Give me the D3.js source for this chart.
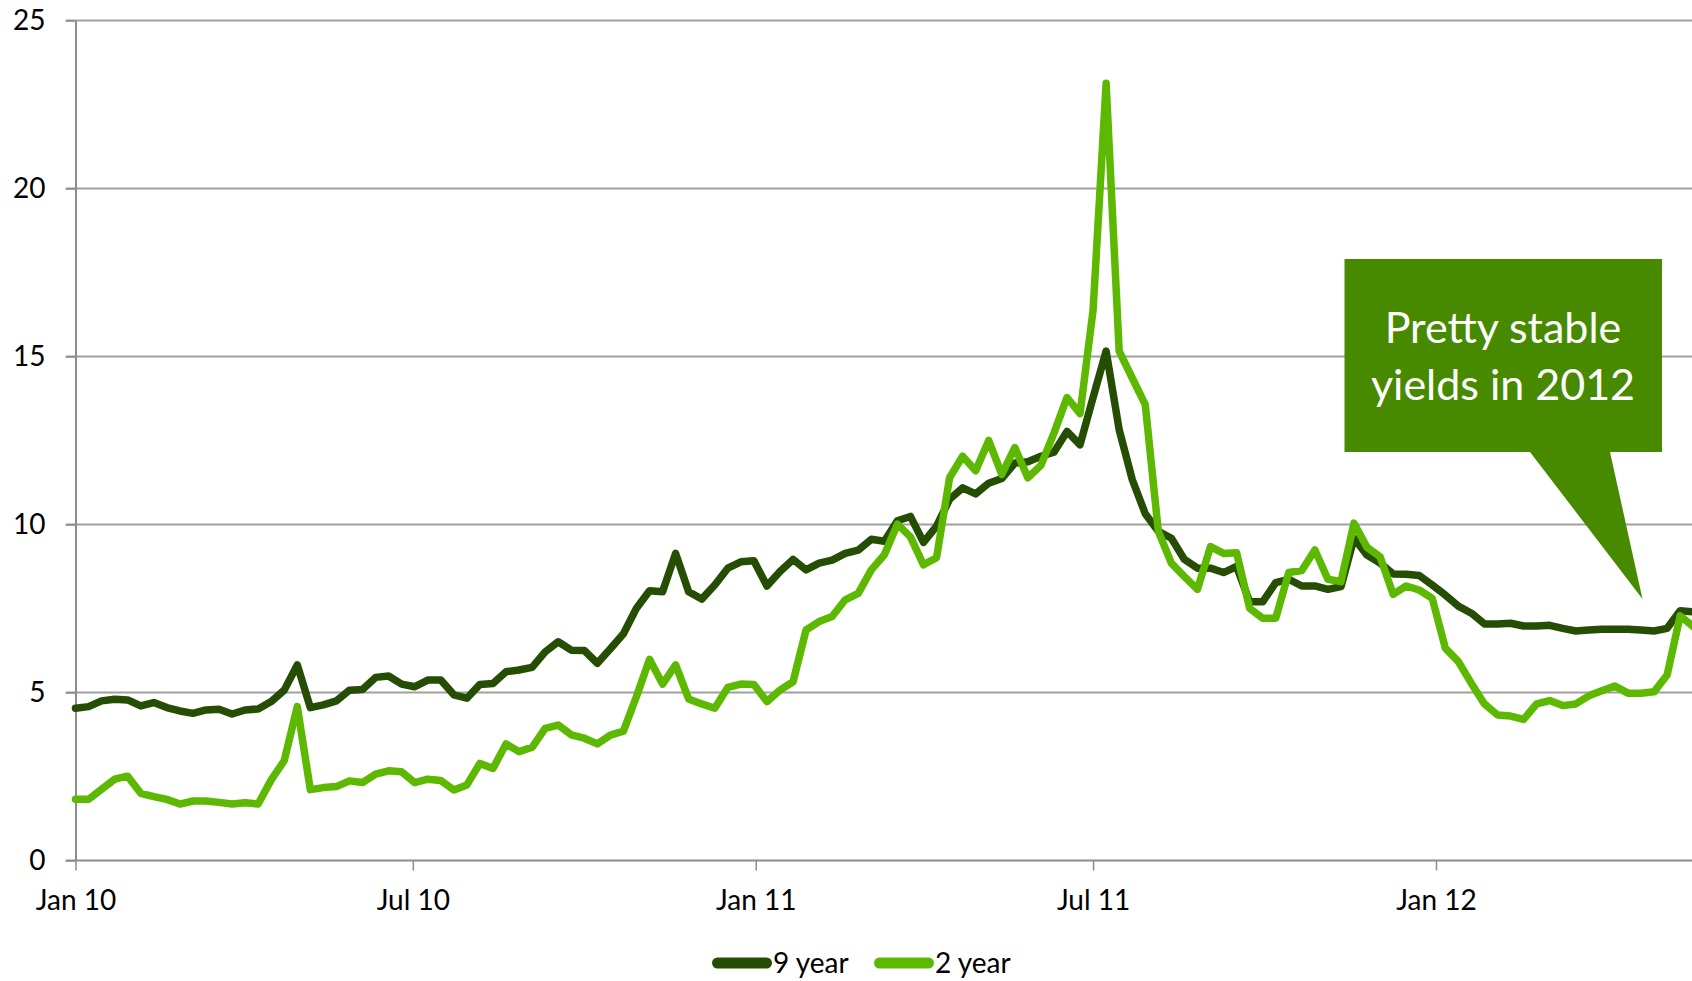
<!DOCTYPE html>
<html>
<head>
<meta charset="utf-8">
<script src="https://cdn.jsdelivr.net/npm/d3@7"></script>
<style>
    body { margin: 0; background: #fff; }
    text { font-family: Lato, "Open Sans", sans-serif; }
</style>
</head>
<body>
<svg width="1692" height="981"></svg>
<script>
// weekly yields, first week starts on Jan 1 2010
var firstWeek = new Date(2010, 0, 1);

var nineYear = [4.53, 4.58, 4.75, 4.80, 4.78, 4.60, 4.70, 4.55, 4.45, 4.38,
    4.48, 4.50, 4.36, 4.48, 4.51, 4.73, 5.07, 5.82, 4.55, 4.63,
    4.75, 5.07, 5.09, 5.45, 5.49, 5.25, 5.17, 5.37, 5.37, 4.93,
    4.83, 5.24, 5.27, 5.62, 5.67, 5.75, 6.21, 6.51, 6.26, 6.25,
    5.87, 6.30, 6.75, 7.51, 8.03, 8.00, 9.14, 8.00, 7.78, 8.20,
    8.70, 8.89, 8.92, 8.17, 8.60, 8.96, 8.65, 8.85, 8.94, 9.14,
    9.24, 9.56, 9.50, 10.11, 10.24, 9.47, 9.95, 10.75, 11.09, 10.91,
    11.23, 11.37, 11.83, 11.87, 12.03, 12.15, 12.77, 12.37, 13.78, 15.16,
    12.82, 11.34, 10.32, 9.80, 9.59, 8.96, 8.70, 8.70, 8.57, 8.75,
    7.70, 7.70, 8.27, 8.37, 8.17, 8.17, 8.07, 8.15, 9.59, 9.09,
    8.85, 8.53, 8.52, 8.48, 8.20, 7.90, 7.57, 7.36, 7.04, 7.04,
    7.06, 6.98, 6.98, 7.00, 6.91, 6.83, 6.86, 6.88, 6.88, 6.88,
    6.86, 6.83, 6.91, 7.43, 7.40];

var twoYear = [1.82, 1.82, 2.12, 2.42, 2.51, 2.00, 1.90, 1.82, 1.68, 1.77,
    1.77, 1.73, 1.68, 1.72, 1.68, 2.40, 2.97, 4.58, 2.11, 2.17,
    2.20, 2.37, 2.32, 2.57, 2.67, 2.64, 2.32, 2.42, 2.38, 2.10,
    2.25, 2.89, 2.74, 3.47, 3.24, 3.37, 3.93, 4.03, 3.74, 3.64,
    3.47, 3.73, 3.85, 4.88, 5.99, 5.25, 5.82, 4.81, 4.66, 4.53,
    5.15, 5.25, 5.24, 4.73, 5.07, 5.32, 6.86, 7.11, 7.26, 7.76,
    7.95, 8.65, 9.10, 10.01, 9.63, 8.80, 9.01, 11.39, 12.03, 11.60,
    12.50, 11.49, 12.29, 11.39, 11.76, 12.72, 13.78, 13.30, 16.38, 23.13,
    15.16, 14.36, 13.57, 9.80, 8.85, 8.45, 8.07, 9.34, 9.14, 9.16,
    7.51, 7.21, 7.21, 8.57, 8.63, 9.24, 8.37, 8.30, 10.04, 9.32,
    9.04, 7.92, 8.17, 8.05, 7.80, 6.32, 5.92, 5.27, 4.66, 4.33,
    4.30, 4.20, 4.66, 4.76, 4.61, 4.66, 4.90, 5.05, 5.19, 4.98,
    4.98, 5.02, 5.52, 7.28, 6.96];

var seriesNames = ["9 year", "2 year"];
var seriesColors = ["#264D04", "#5CB800"];

var xTicks = [new Date(2010, 0, 1), new Date(2010, 6, 1), new Date(2011, 0, 1),
    new Date(2011, 6, 1), new Date(2012, 0, 1)];
var yTicks = [0, 5, 10, 15, 20, 25];

var calloutText = ["Pretty stable", "yields in 2012"];

var svg = d3.select("svg"),
    width = +svg.attr("width");

var xScale = d3.scaleTime()
    .domain([new Date(2010, 0, 1), new Date(2012, 0, 1)])
    .range([75.5, 1436]);
var yScale = d3.scaleLinear()
    .domain([0, 25])
    .range([860.5, 20.5]);

function toPoints(values) {
    return values.map(function (v, i) {
        return { date: d3.timeDay.offset(firstWeek, i * 7), value: v };
    });
}

// gridlines
svg.append("g")
    .selectAll("line")
    .data(yTicks.slice(1))
    .enter()
    .append("line")
    .attr("x1", 66)
    .attr("x2", width)
    .attr("y1", (d) => yScale(d))
    .attr("y2", (d) => yScale(d))
    .attr("stroke", "#A0A0A0")
    .attr("stroke-width", 2);

var yAxis = svg.append("g")
    .attr("transform", "translate(75.5,0)")
    .call(d3.axisLeft(yScale).tickValues(yTicks).tickSize(10).tickSizeOuter(0).tickPadding(20));

var xAxis = svg.append("g")
    .attr("transform", "translate(0,860.5)")
    .call(d3.axisBottom(xScale).tickValues(xTicks).tickSize(10).tickSizeOuter(0)
        .tickPadding(20).tickFormat(d3.timeFormat("%b %y")));

xAxis.select(".domain").attr("d", "M66,0H" + width);

[yAxis, xAxis].forEach(function (ax) {
    ax.select(".domain").attr("stroke", "#8C8C8C").attr("stroke-width", 2);
    ax.selectAll(".tick line").attr("stroke", "#8C8C8C").attr("stroke-width", 1.5);
    ax.selectAll("text").attr("fill", "#000").style("font-size", "28px");
});

var line = d3.line()
    .x((d) => xScale(d.date))
    .y((d) => yScale(d.value));

[nineYear, twoYear].forEach(function (values, k) {
    svg.append("path")
        .datum(toPoints(values))
        .attr("fill", "none")
        .attr("stroke", seriesColors[k])
        .attr("stroke-width", 7.5)
        .attr("stroke-linejoin", "round")
        .attr("stroke-linecap", "round")
        .attr("d", line);
});

// callout box with pointer
svg.append("path")
    .attr("d", "M1344.5,259H1662V452H1610L1642.5,599L1530,452H1344.5Z")
    .attr("fill", "#478A00");

svg.append("g")
    .selectAll("text")
    .data(calloutText)
    .enter()
    .append("text")
    .attr("x", 1503)
    .attr("y", (d, i) => 343 + i * 57)
    .attr("text-anchor", "middle")
    .attr("fill", "#fff")
    .style("font-size", "43px")
    .text((d) => d);

// legend
var legendX = [712, 874];
var legend = svg.append("g")
    .selectAll("g")
    .data(seriesNames)
    .enter()
    .append("g")
    .attr("transform", (d, i) => "translate(" + legendX[i] + ",963)");

legend.append("line")
    .attr("x1", 5.5)
    .attr("x2", 54.5)
    .attr("stroke", (d, i) => seriesColors[i])
    .attr("stroke-width", 11)
    .attr("stroke-linecap", "round");

legend.append("text")
    .attr("x", 61)
    .attr("y", 10)
    .style("font-size", "28px")
    .text((d) => d);
</script>
</body>
</html>
